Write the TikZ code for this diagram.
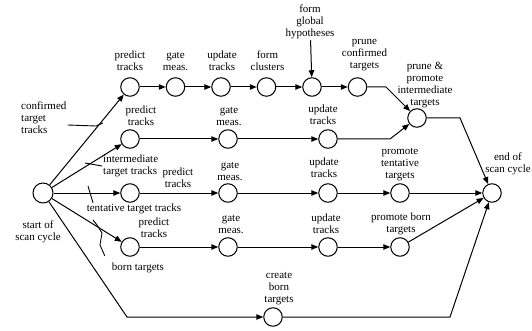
\documentclass[tikz,border=0pt]{standalone}
\usepackage{fontspec}
\setmainfont{Liberation Serif}
\usetikzlibrary{arrows.meta, positioning}

\begin{document}
\begin{tikzpicture}[x=1pt, y=1pt,
            stage/.style={circle, draw, line width=1pt, minimum size=18.5pt, inner sep=0pt},
            lbl/.style={align=center, inner sep=1pt, font=\fontsize{11}{12}\selectfont},
            arr/.style={-{Triangle[length=7pt, width=5.5pt]}, line width=1pt},
            tick/.style={line width=0.9pt}
        ]
            \useasboundingbox (0,0) rectangle (532,-331);

            % start and end of the cycle
            \node[stage, minimum size=20pt] (start) at (43,-193) {};
            \node[stage] (end) at (492,-193) {};
            \node[lbl] (startl) at (38,-232) {start of\\scan cycle};
            \node[lbl] (endl) at (508,-164) {end of\\scan cycle};

            % confirmed target tracks
            \node[stage] (cpred) at (130,-87) {};
            \node[stage, right=26pt of cpred] (cgate) {};
            \node[stage, right=26pt of cgate] (cupd) {};
            \node[stage, right=26pt of cupd] (cclust) {};
            \node[stage, right=26pt of cclust] (chyp) {};
            \node[stage, right=26pt of chyp] (cprune) {};
            \node[lbl, above=5pt of cpred] (cpredl) {predict\\tracks};
            \node[lbl, above=5pt of cgate] (cgatel) {gate\\meas.};
            \node[lbl, above=5pt of cupd, xshift=1pt] (cupdl) {update\\tracks};
            \node[lbl, above=5pt of cclust, xshift=1pt] (cclustl) {form\\clusters};
            \node[lbl] (chypl) at (310,-22) {form\\global\\hypotheses};
            \node[lbl, above=5pt of cprune, xshift=7pt] (cprunel) {prune\\confirmed\\targets};

            % intermediate target tracks
            \node[stage] (ipred) at (130,-139) {};
            \node[stage] (igate) at (228,-139) {};
            \node[stage] (iupd) at (328,-139) {};
            \node[stage] (iprune) at (417,-118) {};
            \node[lbl] (ipredl) at (141,-116) {predict\\tracks};
            \node[lbl] (igatel) at (229,-116) {gate\\meas.};
            \node[lbl] (iupdl) at (323,-115) {update\\tracks};
            \node[lbl] (iprunel) at (425,-85) {prune \&\\promote\\intermediate\\targets};

            % tentative target tracks
            \node[stage] (tpred) at (130,-193) {};
            \node[stage] (tgate) at (228,-193) {};
            \node[stage] (tupd) at (328,-193) {};
            \node[stage] (tprom) at (400,-193) {};
            \node[lbl] (tpredl) at (178,-177.5) {predict\\tracks};
            \node[lbl] (tgatel) at (230,-171) {gate\\meas.};
            \node[lbl] (tupdl) at (324,-167.5) {update\\tracks};
            \node[lbl] (tproml) at (400,-164.5) {promote\\tentative\\targets};

            % born targets
            \node[stage] (bpred) at (130,-247) {};
            \node[stage] (bgate) at (228,-247) {};
            \node[stage] (bupd) at (328,-247) {};
            \node[stage] (bprom) at (400,-247) {};
            \node[stage] (bcreate) at (273,-317) {};
            \node[lbl] (bpredl) at (154,-227.5) {predict\\tracks};
            \node[lbl] (bgatel) at (231,-224) {gate\\meas.};
            \node[lbl] (bupdl) at (326,-224) {update\\tracks};
            \node[lbl] (bproml) at (401,-224) {promote born\\targets};
            \node[lbl] (bcreatel) at (279,-288.5) {create\\born\\targets};

            % inputs coming from the start node
            \node[lbl, align=left, anchor=west] (confl) at (20,-118) {confirmed\\target\\tracks};
            \node[lbl, align=left, anchor=west] (interl) at (102,-166) {intermediate\\target tracks};
            \node[lbl] (tentl) at (134,-209) {tentative target tracks};
            \node[lbl] (bornl) at (138,-268) {born targets};

            % bends
            \coordinate (k1) at (386,-87);
            \coordinate (k2) at (390,-139);
            \coordinate (k3) at (460,-118);
            \coordinate (k4) at (127,-317);
            \coordinate (k5) at (450,-317);

            \draw[arr] (start) -- (cpred);
            \draw[arr] (start) -- (ipred);
            \draw[arr] (start) -- (tpred);
            \draw[arr] (start) -- (bpred);
            \draw[arr] (start) -- (k4) -- (bcreate);

            \draw[arr] (cpred) -- (cgate);
            \draw[arr] (cgate) -- (cupd);
            \draw[arr] (cupd) -- (cclust);
            \draw[arr] (cclust) -- (chyp);
            \draw[arr] (chyp) -- (cprune);
            \draw[arr] (chypl) -- (chyp);
            \draw[arr] (cprune) -- (k1) -- (iprune);

            \draw[arr] (ipred) -- (igate);
            \draw[arr] (igate) -- (iupd);
            \draw[arr] (iupd) -- (k2) -- (iprune);
            \draw[arr] (iprune) -- (k3) -- (end);

            \draw[arr] (tpred) -- (tgate);
            \draw[arr] (tgate) -- (tupd);
            \draw[arr] (tupd) -- (tprom);
            \draw[arr] (tprom) -- (end);

            \draw[arr] (bpred) -- (bgate);
            \draw[arr] (bgate) -- (bupd);
            \draw[arr] (bupd) -- (bprom);
            \draw[arr] (bprom) -- (end);
            \draw[arr] (bcreate) -- (k5) -- (end);

            % pointer strokes from the input labels
            \coordinate (t1) at (103,-123);
            \coordinate (t2) at (85,-163);
            \coordinate (t3) at (88,-186);
            \coordinate (t4) at (93,-220);
            \draw[tick] (confl.east |- 0,-125) -- (96,-126) -- (t1);
            \draw[tick] (interl.west) -- (t2);
            \draw[tick] (tentl.north -| 93,0) -- (t3);
            \draw[tick] (bornl.north west) ++(-6,6) -- (100,-245) -- (102,-233) -- (97,-225) -- (t4);
        \end{tikzpicture}
\end{document}
